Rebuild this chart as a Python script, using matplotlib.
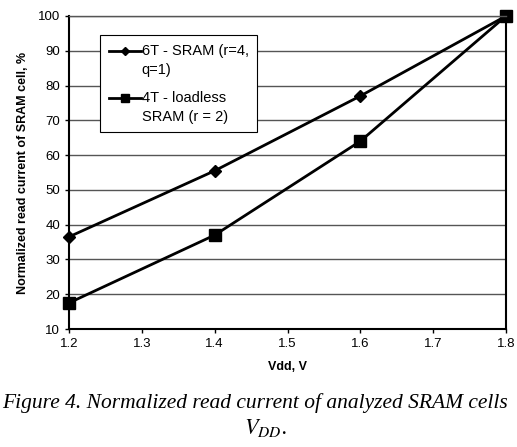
import matplotlib
matplotlib.use("Agg")
import matplotlib.pyplot as plt
from matplotlib.legend_handler import HandlerLine2D

vdd = [1.2, 1.4, 1.6, 1.8]
sram_6t = [36.5, 55.5, 77, 100]
sram_4t = [17.5, 37, 64, 100]
x_ticks = [1.2, 1.3, 1.4, 1.5, 1.6, 1.7, 1.8]
y_ticks = [10, 20, 30, 40, 50, 60, 70, 80, 90, 100]

plt.rcParams["font.family"] = ["Liberation Sans", "DejaVu Sans"]
plt.rcParams["mathtext.fontset"] = "stix"


# legend handle sits on the first line of a two-line label
class TopHandler(HandlerLine2D):
    def create_artists(self, legend, orig_handle, xdescent, ydescent, width, height, fontsize, trans):
        arts = super().create_artists(legend, orig_handle, xdescent, ydescent, width, height, fontsize, trans)
        for a in arts:
            a.set_ydata([y + 7.2 for y in a.get_ydata()])
            a.set_markersize(orig_handle.get_markersize() * 0.7)
        return arts


fig = plt.figure(figsize=(5.17, 4.47), dpi=100)
ax = fig.add_axes([69/517, 1 - 329/447, (506-69)/517, (329-16)/447])

l6, = ax.plot(vdd, sram_6t, color="black", lw=2, marker="D", ms=6, clip_on=False,
              label="6T - SRAM (r=4,\nq=1)")
l4, = ax.plot(vdd, sram_4t, color="black", lw=2, marker="s", ms=8, clip_on=False,
              label="4T - loadless\nSRAM (r = 2)")

ax.set_xlim(1.2, 1.8)
ax.set_ylim(10, 100)
ax.set_xticks(x_ticks)
ax.set_yticks(y_ticks)
ax.set_xticklabels([f"{v:.1f}" for v in x_ticks], fontsize=9.5)
ax.set_yticklabels([str(v) for v in y_ticks], fontsize=9.5)
ax.tick_params(direction="out", length=3, width=1)
ax.yaxis.grid(True, color="#555555", lw=1)
ax.set_axisbelow(True)
for s in ["left", "bottom", "right"]:
    ax.spines[s].set_linewidth(1.5)
ax.spines["top"].set_color("#555555")
ax.spines["top"].set_linewidth(1)

ax.set_xlabel("Vdd, V", fontsize=9, fontweight="bold", labelpad=8)
ax.set_ylabel("Normalized read current of SRAM cell, %", fontsize=9, fontweight="bold", labelpad=6)

leg = ax.legend(loc="upper left", bbox_to_anchor=(0.071, 0.939), borderaxespad=0, fontsize=10.5,
                frameon=True, fancybox=False, edgecolor="black", framealpha=1,
                handlelength=2.2, handletextpad=0.05, labelspacing=0.95, borderpad=0.6,
                handler_map={l6: TopHandler(), l4: TopHandler()})
leg.get_frame().set_linewidth(0.8)
for t in leg.get_texts():
    t.set_linespacing(1.45)

fig.text(0.004, 1 - 403/447, "Figure 4. Normalized read current of analyzed SRAM cells",
         family="Liberation Serif", style="italic", fontsize=15.5, ha="left", va="center")
fig.text(265/517, 1 - 428/447, "$V_{DD}$.", family="Liberation Serif", style="italic",
         fontsize=16, ha="center", va="center")

fig.savefig("out.png", dpi=100)
